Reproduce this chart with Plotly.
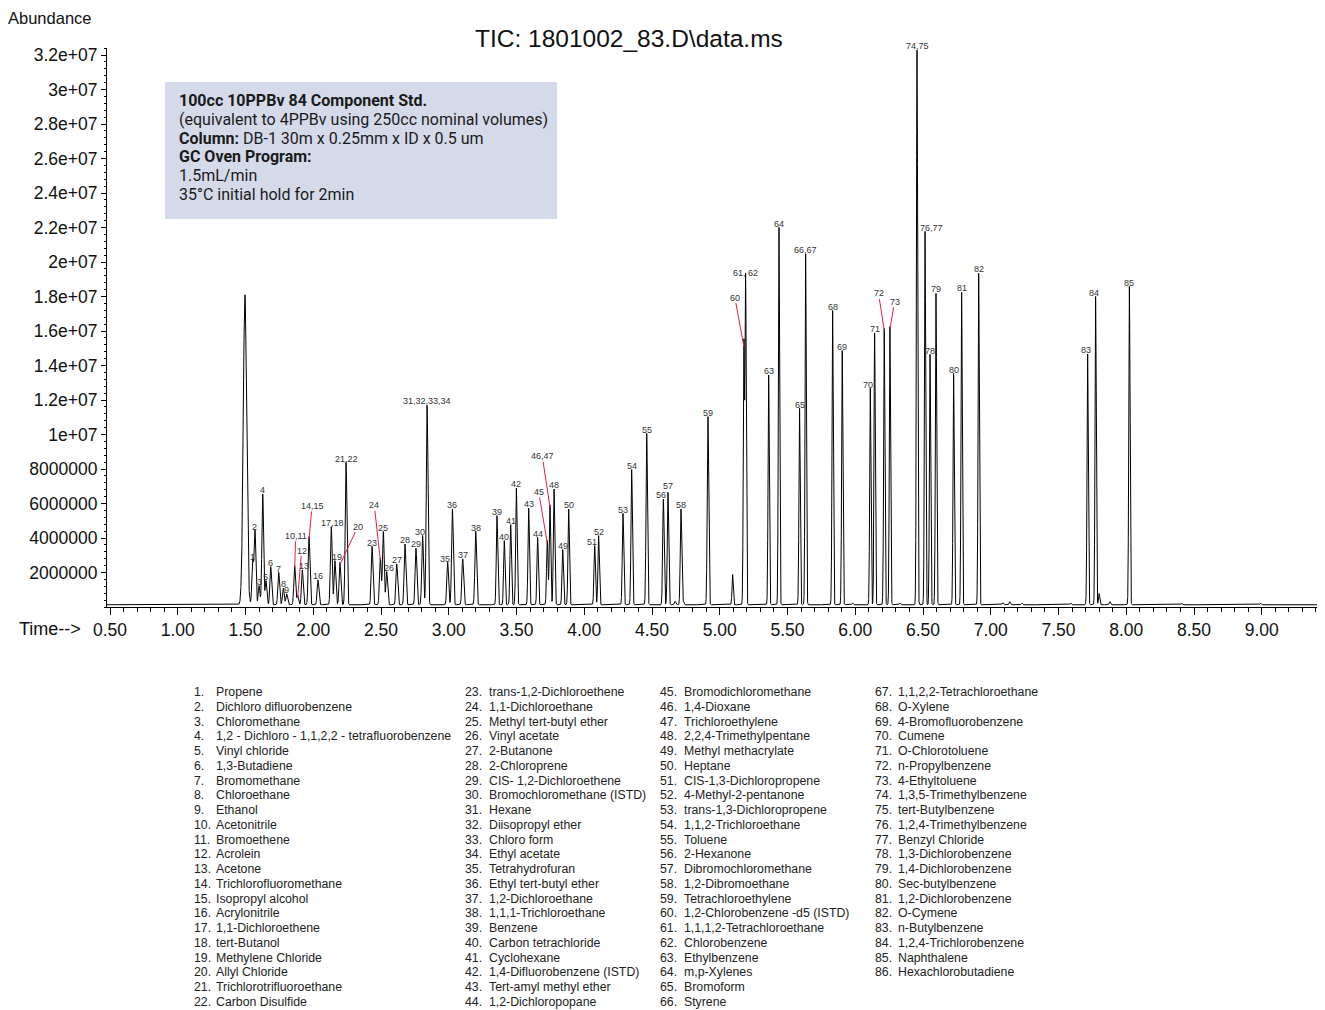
import numpy as np
import plotly.graph_objects as go

# ---------------- data ----------------
peak_labels = ["1", "2", "3", "4", "5", "6", "7", "8", "9", "10,11", "12", "13", "14,15", "16",
               "17,18", "19", "20", "21,22", "23", "24", "25", "26", "27", "28", "29", "30",
               "31,32,33,34", "35", "36", "37", "38", "39", "40", "41", "42", "43", "44", "45",
               "46,47", "48", "49", "50", "51", "52", "53", "54", "55", "56", "57", "58", "59",
               "60", "61, 62", "63", "64", "65", "66,67", "68", "69", "70", "71", "72", "73",
               "74,75", "76,77", "78", "79", "80", "81", "82", "83", "84", "85"]
peak_rt = [1.553, 1.570, 1.600, 1.627, 1.651, 1.686, 1.745, 1.779, 1.804, 1.863, 1.885, 1.919,
           1.969, 2.035, 2.133, 2.160, 2.197, 2.242, 2.434, 2.495, 2.517, 2.542, 2.616, 2.677,
           2.758, 2.807, 2.840, 2.992, 3.027, 3.103, 3.199, 3.356, 3.410, 3.457, 3.499, 3.590,
           3.656, 3.727, 3.747, 3.777, 3.841, 3.885, 4.077, 4.106, 4.286, 4.350, 4.461, 4.584,
           4.618, 4.714, 4.913, 5.178, 5.191, 5.361, 5.437, 5.589, 5.634, 5.833, 5.904, 6.111,
           6.143, 6.214, 6.256, 6.456, 6.515, 6.552, 6.596, 6.726, 6.785, 6.911, 7.715, 7.774,
           8.023]
peak_height = [2.56e6, 4.30e6, 1.11e6, 6.42e6, 1.40e6, 2.21e6, 1.88e6, 0.97e6, 0.63e6, 2.27e6,
               0.55e6, 2.02e6, 3.95e6, 1.44e6, 4.53e6, 2.56e6, 2.46e6, 8.26e6, 3.39e6, 2.71e6,
               4.24e6, 1.92e6, 2.37e6, 3.52e6, 3.28e6, 4.01e6, 11.57e6, 2.46e6, 5.55e6, 2.66e6,
               4.26e6, 5.17e6, 3.72e6, 4.65e6, 6.77e6, 5.61e6, 3.91e6, 3.72e6, 5.79e6, 6.71e6,
               3.20e6, 5.55e6, 3.43e6, 4.01e6, 5.30e6, 7.84e6, 9.94e6, 6.13e6, 6.52e6, 5.55e6,
               10.91e6, 15.1e6, 19.0e6, 13.32e6, 21.88e6, 11.39e6, 20.34e6, 17.06e6, 14.74e6,
               12.55e6, 15.76e6, 16.03e6, 16.13e6, 32.17e6, 21.65e6, 14.52e6, 18.06e6, 13.42e6,
               18.12e6, 19.22e6, 14.54e6, 17.88e6, 18.46e6]

# unlabeled peaks (solvent / air peak and small bumps)
other_rt = [1.496, 5.095, 4.67, 4.73, 5.98, 6.33, 7.09, 7.14, 7.23, 7.59, 7.80, 7.88, 8.41, 8.99]
other_height = [17.97e6, 1.75e6, 0.2e6, 0.18e6, 0.1e6, 0.1e6, 0.12e6, 0.18e6, 0.1e6, 0.1e6,
                0.65e6, 0.18e6, 0.08e6, 0.08e6]
baseline_level = 0.13e6

y_tick_vals = [2e6, 4e6, 6e6, 8e6, 10e6, 12e6, 14e6, 16e6, 18e6, 20e6, 22e6, 24e6, 26e6, 28e6, 30e6, 32e6]
y_tick_text = ["2000000", "4000000", "6000000", "8000000", "1e+07", "1.2e+07", "1.4e+07",
               "1.6e+07", "1.8e+07", "2e+07", "2.2e+07", "2.4e+07", "2.6e+07", "2.8e+07",
               "3e+07", "3.2e+07"]

compound_names = [
    "Propene", "Dichloro difluorobenzene", "Chloromethane",
    "1,2 - Dichloro - 1,1,2,2 - tetrafluorobenzene", "Vinyl chloride", "1,3-Butadiene",
    "Bromomethane", "Chloroethane", "Ethanol", "Acetonitrile", "Bromoethene", "Acrolein",
    "Acetone", "Trichlorofluoromethane", "Isopropyl alcohol", "Acrylonitrile",
    "1,1-Dichloroethene", "tert-Butanol", "Methylene Chloride", "Allyl Chloride",
    "Trichlorotrifluoroethane", "Carbon Disulfide",
    "trans-1,2-Dichloroethene", "1,1-Dichloroethane", "Methyl tert-butyl ether",
    "Vinyl acetate", "2-Butanone", "2-Chloroprene", "CIS- 1,2-Dichloroethene",
    "Bromochloromethane (ISTD)", "Hexane", "Diisopropyl ether", "Chloro form",
    "Ethyl acetate", "Tetrahydrofuran", "Ethyl tert-butyl ether", "1,2-Dichloroethane",
    "1,1,1-Trichloroethane", "Benzene", "Carbon tetrachloride", "Cyclohexane",
    "1,4-Difluorobenzene (ISTD)", "Tert-amyl methyl ether", "1,2-Dichloropopane",
    "Bromodichloromethane", "1,4-Dioxane", "Trichloroethylene", "2,2,4-Trimethylpentane",
    "Methyl methacrylate", "Heptane", "CIS-1,3-Dichloropropene", "4-Methyl-2-pentanone",
    "trans-1,3-Dichloropropene", "1,1,2-Trichloroethane", "Toluene", "2-Hexanone",
    "Dibromochloromethane", "1,2-Dibromoethane", "Tetrachloroethylene",
    "1,2-Chlorobenzene -d5 (ISTD)", "1,1,1,2-Tetrachloroethane", "Chlorobenzene",
    "Ethylbenzene", "m,p-Xylenes", "Bromoform", "Styrene",
    "1,1,2,2-Tetrachloroethane", "O-Xylene", "4-Bromofluorobenzene", "Cumene",
    "O-Chlorotoluene", "n-Propylbenzene", "4-Ethyltoluene", "1,3,5-Trimethylbenzene",
    "tert-Butylbenzene", "1,2,4-Trimethylbenzene", "Benzyl Chloride", "1,3-Dichlorobenzene",
    "1,4-Dichlorobenzene", "Sec-butylbenzene", "1,2-Dichlorobenzene", "O-Cymene",
    "n-Butylbenzene", "1,2,4-Trichlorobenzene", "Naphthalene", "Hexachlorobutadiene"]

title_text = "TIC: 1801002_83.D\\data.ms"
box_lines = ["<b>100cc 10PPBv 84 Component Std.</b>",
             "(equivalent to 4PPBv using 250cc nominal volumes)",
             "<b>Column:</b> DB-1 30m x 0.25mm x ID x 0.5 um",
             "<b>GC Oven Program:</b>",
             "1.5mL/min",
             "35°C initial hold for 2min"]

# ---------------- layout helpers (pixel geometry) ----------------
# page body has an 8px margin, so the figure sits at (8, 8) in the window
PAGE_OFF = 8
W, H = 1325 - PAGE_OFF, 1010 - PAGE_OFF
# plot area in window pixels
L, R, T, B = 107, 1322, 48, 607
X_RANGE = [0.5 - 3 / 135.5, 0.5 + (1322 - 110) / 135.5]
Y_RANGE = [0, (B - T) / 34.5 * 2e6]


def px(x):
    return (x - L) / (R - L)


def py(y):
    return (B - y) / (B - T)


# label pixel nudges (layout only)
label_dx = {"13": 1.5, "17,18": 1.4, "19": 2, "26": 2.6, "30": -2.7, "35": -2.7, "51": -2.4,
            "56": -2.6, "70": -2, "76,77": 6.7, "83": -1.5, "84": -1.5}
label_dy = {"57": 2.3}
leader = {"10,11": (1, -32), "12": (4, -47), "14,15": (3, -33), "20": (18, -38),
          "24": (-6, -55), "45": (-8.6, -51), "46,47": (-7.7, -51), "60": (-9, -49),
          "72": (-5.7, -37), "73": (4.7, -27)}

# ---------------- build the chromatogram line from the peak table ----------------
t = np.arange(X_RANGE[0], X_RANGE[1], 0.0004)
sig = np.full_like(t, baseline_level)


def width_for(rt):
    if rt < 1.52:
        return 0.0125
    if rt < 3.2:
        return 0.0062
    if rt < 5.0:
        return 0.0052
    return 0.0045


for rt, h in zip(peak_rt + other_rt, peak_height + other_height):
    s = width_for(rt)
    sig += h * np.exp(-0.5 * ((t - rt) / s) ** 2)

fig = go.Figure()
fig.add_trace(go.Scatter(x=np.round(t, 4), y=np.round(sig, -2), mode="lines",
                         line=dict(color="black", width=1), hoverinfo="skip"))

ann = []
lab_font = dict(family="Liberation Sans, Arial", size=9, color="#333333")
for lab, rt, h in zip(peak_labels, peak_rt, peak_height):
    if lab in leader:
        ax, ay = leader[lab]
        ann.append(dict(x=rt, y=h, xref="x", yref="y", text=lab, showarrow=True,
                        arrowhead=0, arrowwidth=1, arrowcolor="#e8203c", ax=ax, ay=ay,
                        standoff=0, font=lab_font, borderpad=0))
    else:
        ann.append(dict(x=rt, y=h, xref="x", yref="y", text=lab, showarrow=False,
                        xanchor="center", yanchor="bottom", borderpad=0,
                        xshift=label_dx.get(lab, 0), yshift=label_dy.get(lab, 0),
                        font=lab_font))

# title / axis texts
ann.append(dict(x=px(629), y=py(38), xref="paper", yref="paper", text=title_text,
                showarrow=False, xanchor="center", yanchor="middle",
                font=dict(family="Liberation Sans, Arial", size=24.5, color="#111")))
ann.append(dict(x=px(7), y=py(PAGE_OFF), xref="paper", yref="paper", text="Abundance",
                showarrow=False, xanchor="left", yanchor="top", borderpad=0,
                font=dict(family="Liberation Sans, Arial", size=16.5, color="#111")))
ann.append(dict(x=px(17), y=py(629), xref="paper", yref="paper", text="Time-->",
                showarrow=False, xanchor="left", yanchor="middle",
                font=dict(family="Liberation Sans, Arial", size=18, color="#111")))

# info box text
for i, line in enumerate(box_lines):
    ann.append(dict(x=px(177), y=py(100 + 19 * i), xref="paper", yref="paper", text=line,
                    showarrow=False, xanchor="left", yanchor="middle",
                    font=dict(family="Roboto", size=16, color="#1a1a1a")))

# compound legend (4 columns)
col_num_x = [192, 463, 658, 873]
col_name_x = [214, 487, 682, 896]
leg_font = dict(family="Liberation Sans, Arial", size=12.3, color="#222")
for idx, name in enumerate(compound_names):
    col, row = divmod(idx, 22)
    yy = 692 + row * 14.76
    ann.append(dict(x=px(col_num_x[col]), y=py(yy), xref="paper", yref="paper",
                    text=f"{idx + 1}.", showarrow=False, xanchor="left", yanchor="middle",
                    font=leg_font))
    ann.append(dict(x=px(col_name_x[col]), y=py(yy), xref="paper", yref="paper",
                    text=name, showarrow=False, xanchor="left", yanchor="middle",
                    font=leg_font))

shapes = [dict(type="rect", xref="paper", yref="paper", x0=px(165), x1=px(557),
               y0=py(219), y1=py(82), fillcolor="#d5daeb", line=dict(width=0), layer="below")]

fig.update_layout(
    width=W, height=H,
    margin=dict(l=L - PAGE_OFF, r=1325 - R, t=T - PAGE_OFF, b=1010 - B, pad=0),
    paper_bgcolor="white", plot_bgcolor="white", showlegend=False,
    annotations=ann, shapes=shapes,
    font=dict(family="Liberation Sans, Arial", color="#111"),
    xaxis=dict(range=X_RANGE, showgrid=False, zeroline=False, showline=True,
               linecolor="black", linewidth=1, ticks="outside", ticklen=7, tickwidth=1,
               tickcolor="black", tick0=0.5, dtick=0.5, tickformat=".2f",
               tickfont=dict(size=17.5, color="#111"),
               minor=dict(tick0=0.5, dtick=0.1, ticks="outside", ticklen=4,
                          tickcolor="black", showgrid=False)),
    yaxis=dict(range=Y_RANGE, showgrid=False, zeroline=False, showline=True,
               linecolor="black", linewidth=1, ticks="outside", ticklen=5, tickwidth=1,
               tickcolor="black", tickmode="array", tickvals=y_tick_vals,
               ticktext=y_tick_text, tickfont=dict(size=17.5, color="#111"),
               ticklabelstandoff=0,
               minor=dict(tickmode="linear", tick0=0, dtick=4e5, ticks="outside",
                          ticklen=2.5, tickcolor="black", showgrid=False)),
)

fig.write_html("out.html")
